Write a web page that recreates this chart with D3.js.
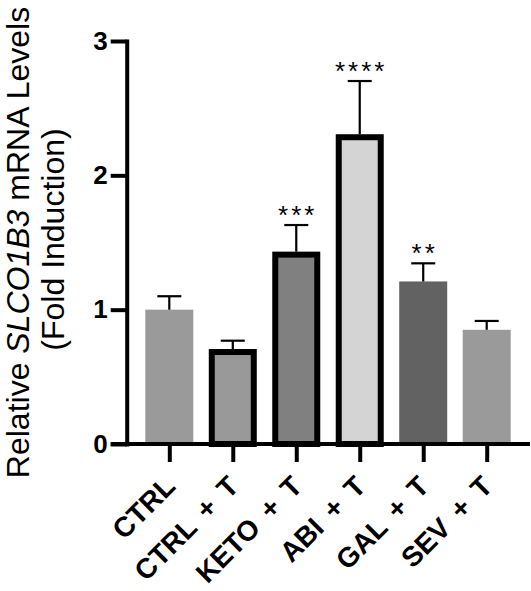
<!DOCTYPE html>
<html><head><meta charset="utf-8">
<script src="https://cdn.jsdelivr.net/npm/d3@7"></script>
<style>
html,body{margin:0;padding:0;background:#fff;}
svg{display:block;font-family:Arial,"Liberation Sans",sans-serif;}
</style></head>
<body>
<script>
const categories = ["CTRL", "CTRL + T", "KETO + T", "ABI + T", "GAL + T", "SEV + T"];
const means = [1.0, 0.707, 1.432, 2.306, 1.21, 0.85];
const sems = [0.10, 0.062, 0.198, 0.396, 0.135, 0.066];
const bordered = [false, true, true, true, false, false];
const stars = ["", "", "***", "****", "**", ""];
const fills = ["#9a9a9a", "#999999", "#808080", "#d4d4d4", "#626262", "#9a9a9a"];
const yTicks = [0, 1, 2, 3];

const W = 531, H = 591;
const svg = d3.select("body").append("svg").attr("width", W).attr("height", H);

const axisX = 126.7;
const y = d3.scaleLinear().domain([0, 3]).range([444, 41]);
const x = d3.scalePoint().domain(categories).range([169.3, 486.7]);
const barW = 48, bw = 6;

const data = categories.map((c, i) => ({c, m: means[i], s: sems[i], b: bordered[i], st: stars[i], f: fills[i]}));

// bars
svg.append("g").selectAll("rect").data(data).join("rect")
  .attr("x", d => x(d.c) - barW / 2 + (d.b ? bw / 2 : 0))
  .attr("y", d => y(d.m) + (d.b ? bw / 2 : 0))
  .attr("width", d => barW - (d.b ? bw : 0))
  .attr("height", d => y(0) - y(d.m) - (d.b ? bw / 2 : 0))
  .attr("fill", d => d.f)
  .attr("stroke", d => d.b ? "#000" : "none")
  .attr("stroke-width", bw);

// error bars
const eg = svg.append("g").attr("stroke", "#000").attr("stroke-width", 2.2);
eg.selectAll("line.v").data(data).join("line").attr("class", "v")
  .attr("x1", d => x(d.c)).attr("x2", d => x(d.c))
  .attr("y1", d => y(d.m)).attr("y2", d => y(d.m + d.s));
eg.selectAll("line.h").data(data).join("line").attr("class", "h")
  .attr("x1", d => x(d.c) - 12).attr("x2", d => x(d.c) + 12)
  .attr("y1", d => y(d.m + d.s)).attr("y2", d => y(d.m + d.s));

// stars
svg.append("g").selectAll("text").data(data.filter(d => d.st)).join("text")
  .attr("x", d => x(d.c) + 1.5)
  .attr("y", d => y(d.m + d.s) - 1)
  .attr("text-anchor", "middle")
  .attr("font-size", 26)
  .attr("letter-spacing", 3)
  .text(d => d.st);

// y axis
const ya = svg.append("g").attr("transform", `translate(${axisX},0)`)
  .call(d3.axisLeft(y).tickValues(yTicks).tickFormat(d3.format("d")).tickSize(16).tickPadding(3).tickSizeOuter(0));
ya.select(".domain").attr("stroke-width", 4).attr("stroke-linecap", "square");
ya.selectAll(".tick line").attr("stroke-width", 4);
ya.selectAll(".tick text").attr("font-size", 26).attr("font-weight", "bold").attr("fill", "#000")
  .attr("font-family", "Arial, 'Liberation Sans', sans-serif");

// x axis
const xa = svg.append("g").attr("transform", `translate(0,${y(0)})`)
  .call(d3.axisBottom(x).tickSize(18).tickSizeOuter(0));
xa.select(".domain").remove();
xa.selectAll(".tick line").attr("stroke-width", 4);
xa.selectAll(".tick text")
  .attr("font-size", 28).attr("font-weight", "bold").attr("fill", "#000")
  .attr("font-family", "Arial, 'Liberation Sans', sans-serif")
  .attr("text-anchor", "end")
  .attr("dy", null).attr("y", null)
  .attr("transform", "translate(7,44) rotate(-45)")
  .attr("word-spacing", 5);
svg.append("line")
  .attr("x1", axisX - 16).attr("x2", 530)
  .attr("y1", y(0)).attr("y2", y(0))
  .attr("stroke", "#000").attr("stroke-width", 4);

// y title
const cy = (y(0) + y(3)) / 2;
const t = svg.append("text").attr("text-anchor", "middle").attr("font-size", 32)
  .attr("transform", `translate(29,${cy}) rotate(-90)`);
t.append("tspan").text("Relative ");
t.append("tspan").attr("font-style", "italic").text("SLCO1B3");
t.append("tspan").text(" mRNA Levels");
svg.append("text").attr("text-anchor", "middle").attr("font-size", 32)
  .attr("transform", `translate(64,${cy - 3}) rotate(-90)`)
  .text("(Fold Induction)");
</script>
</body></html>
